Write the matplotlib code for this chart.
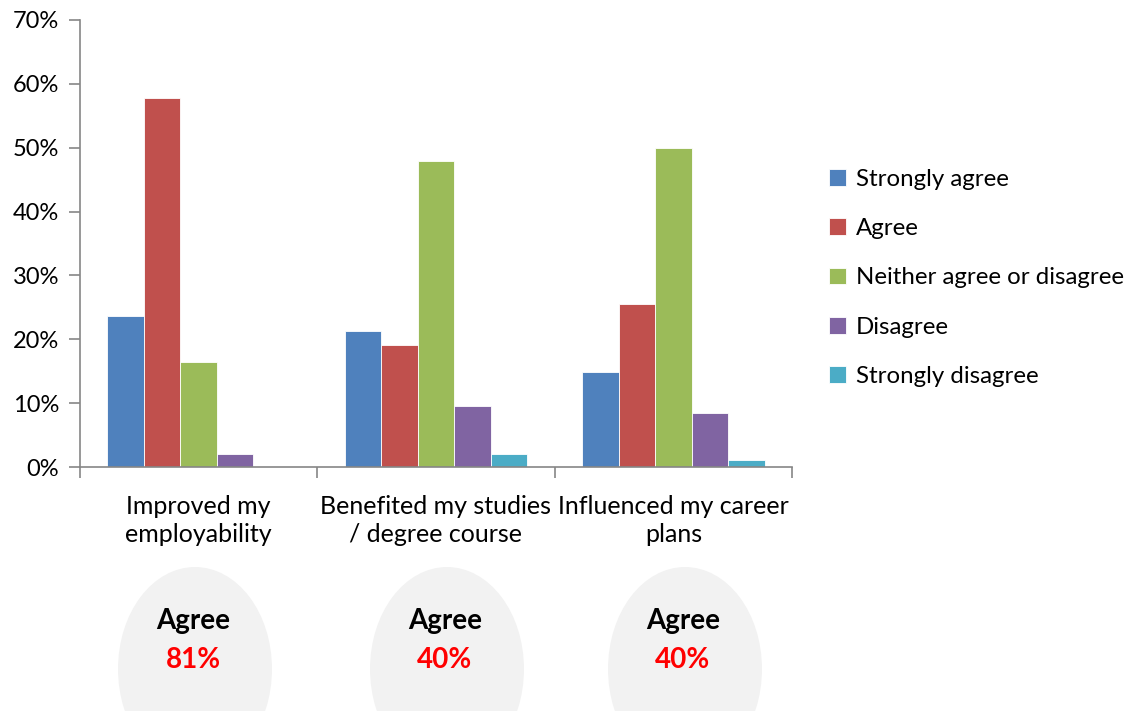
import matplotlib
matplotlib.use("Agg")
import matplotlib.pyplot as plt
from matplotlib.patches import Ellipse
from matplotlib.ticker import FuncFormatter
import numpy as np

plt.rcParams['font.family'] = ['Lato', 'DejaVu Sans']

categories = ["Improved my\nemployability", "Benefited my studies\n/ degree course", "Influenced my career\nplans"]
series_names = ["Strongly agree", "Agree", "Neither agree or disagree", "Disagree", "Strongly disagree"]
strongly_agree = [23.6, 21.3, 14.9]
agree = [57.8, 19.1, 25.5]
neither = [16.4, 47.9, 50.0]
disagree = [2.0, 9.6, 8.5]
strongly_disagree = [0.0, 2.0, 1.1]
agree_totals = ["81%", "40%", "40%"]

colors = ["#4F81BD", "#C0504D", "#9BBB59", "#8064A2", "#4BACC6"]
series = [strongly_agree, agree, neither, disagree, strongly_disagree]

W, H = 1133, 711
fig = plt.figure(figsize=(W / 100, H / 100), dpi=100)
ax = fig.add_axes([80 / W, (H - 467) / H, 712 / W, 447 / H])

x = np.arange(len(categories))
bw = 0.154
for i, (vals, name, c) in enumerate(zip(series, series_names, colors)):
    ax.bar(x + (i - 2) * bw, vals, bw, color=c, label=name, edgecolor='white', linewidth=0.6)

ax.set_xlim(-0.5, 2.5)
ax.set_ylim(0, 70)
ax.set_yticks(range(0, 71, 10))
ax.yaxis.set_major_formatter(FuncFormatter(lambda v, p: f"{int(v)}%"))
ax.set_xticks(x)
ax.set_xticklabels(categories, fontsize=18, linespacing=1.25)
ax.set_xticks([-0.5, 0.5, 1.5, 2.5], minor=True)
ax.tick_params(axis='x', which='major', length=0, pad=20)
ax.tick_params(axis='x', which='minor', length=8, color='#868686', width=1.2, direction='out')
ax.tick_params(axis='y', length=8, color='#868686', width=1.2, labelsize=17, pad=7)
for s in ['top', 'right']:
    ax.spines[s].set_visible(False)
for s in ['left', 'bottom']:
    ax.spines[s].set_color('#868686')
    ax.spines[s].set_linewidth(1.2)

ax.legend(loc='center left', bbox_to_anchor=(1.022, 0.423), frameon=False, fontsize=17.3,
          handlelength=0.7, handleheight=0.7, handletextpad=0.4, labelspacing=1.18)

# overlay in pixel coordinates for the summary circles
ov = fig.add_axes([0, 0, 1, 1], zorder=-1)
ov.set_xlim(0, W)
ov.set_ylim(H, 0)
ov.axis('off')
centers = [195, 447, 685]
for cx, tot in zip(centers, agree_totals):
    ov.add_patch(Ellipse((cx, 669), 154, 204, facecolor='#F2F2F2', edgecolor='none'))
    ov.text(cx - 2, 621, "Agree", ha='center', va='center', fontsize=20, fontweight='bold', color='black')
    ov.text(cx - 2, 660, tot, ha='center', va='center', fontsize=20, fontweight='bold', color='#FF0000')

fig.savefig("out.png", dpi=100)
